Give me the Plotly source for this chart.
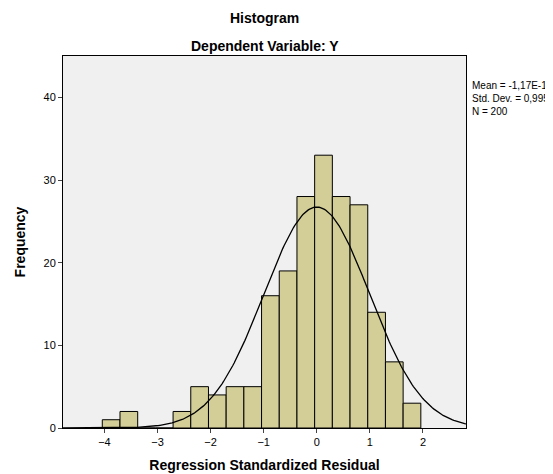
import numpy as np
import plotly.graph_objects as go

# histogram of regression standardized residuals
bin_start = -4.04
bin_width = 0.3333
counts = [1, 2, 0, 0, 2, 5, 4, 5, 5, 16, 19, 28, 33, 28, 27, 14, 8, 3]
mean, sd, n = 0.0, 0.995, 200
x_ticks = [-4, -3, -2, -1, 0, 1, 2]
y_ticks = [0, 10, 20, 30, 40]

centers = [bin_start + bin_width * (i + 0.5) for i in range(len(counts))]

xs = np.linspace(-4.78, 2.81, 300)
ys = n * bin_width * np.exp(-0.5 * ((xs - mean) / sd) ** 2) / (sd * np.sqrt(2 * np.pi))

fig = go.Figure()
fig.add_trace(go.Bar(x=centers, y=counts, width=bin_width,
                     marker=dict(color="#D3CE97", line=dict(color="black", width=1))))
fig.add_trace(go.Scatter(x=xs, y=ys, mode="lines", line=dict(color="black", width=1.3)))

fig.update_layout(
    width=553, height=474, showlegend=False,
    margin=dict(l=48, r=95, t=48, b=45),
    plot_bgcolor="#F0F0F0", paper_bgcolor="white",
    font=dict(family="Arial, Liberation Sans", color="black", size=11),
    xaxis=dict(range=[-4.78, 2.81], tickvals=x_ticks, ticks="outside", ticklen=4,
               showgrid=False, zeroline=False, showline=True, linecolor="black", mirror=True,
               title=dict(text="<b>Regression Standardized Residual</b>", font=dict(size=14), standoff=12)),
    yaxis=dict(range=[0, 45], tickvals=y_ticks, ticks="outside", ticklen=4,
               showgrid=False, zeroline=False, showline=True, linecolor="black", mirror=True,
               title=dict(text="<b>Frequency</b>", font=dict(size=14), standoff=14)),
    annotations=[
        dict(text="<b>Histogram</b>", x=0.5, y=1, xref="paper", yref="paper",
             xanchor="center", yanchor="bottom", yshift=28, showarrow=False, font=dict(size=14)),
        dict(text="<b>Dependent Variable: Y</b>", x=0.5, y=1, xref="paper", yref="paper",
             xanchor="center", yanchor="bottom", yshift=0, showarrow=False, font=dict(size=14)),
        dict(text="Mean = -1,17E-14<br>Std. Dev. = 0,995<br>N = 200", x=1.0, y=1,
             xref="paper", yref="paper", xanchor="left", yanchor="top", xshift=4, yshift=-22,
             align="left", showarrow=False, font=dict(size=10)),
    ],
)

fig.write_html("out.html")
